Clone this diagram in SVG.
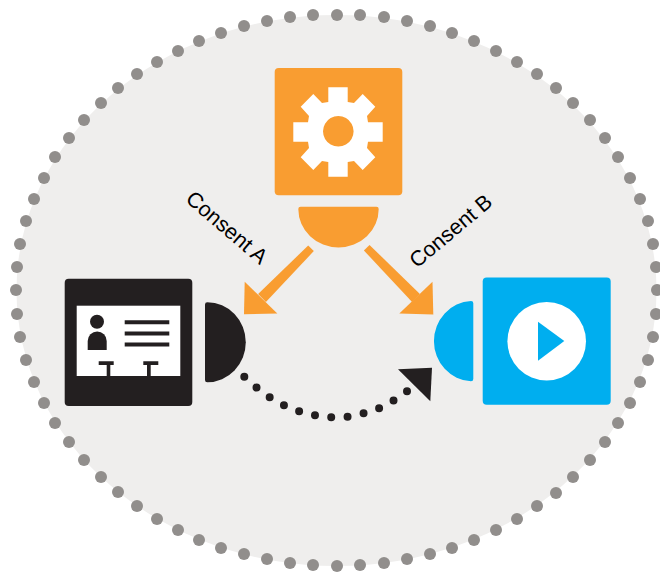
<svg xmlns="http://www.w3.org/2000/svg" width="660" height="574" viewBox="0 0 660 574">
<style>
.bg{fill:#efeeed}
#ring circle{fill:#918e8c;r:6px}
.o{fill:#f99d31}.k{fill:#231f20}.b{fill:#00aeef}.w{fill:#fff}
.dots{fill:none;stroke:#231f20;stroke-width:8;stroke-linecap:round;stroke-dasharray:0 1}
text{font-family:"Liberation Sans",Arial,sans-serif;font-size:21.500px;fill:#000}
</style>
<g id="boundary">
<ellipse class="bg" cx="336.500" cy="290.500" rx="320" ry="275.500"/>
<g id="ring">
<circle cx="337" cy="15"/><circle cx="360" cy="15"/><circle cx="384" cy="17"/><circle cx="407" cy="21"/><circle cx="430" cy="26"/><circle cx="452" cy="33"/><circle cx="474" cy="41"/><circle cx="496" cy="51"/><circle cx="517" cy="62"/><circle cx="537" cy="74"/><circle cx="556" cy="88"/><circle cx="573" cy="103"/><circle cx="590" cy="120"/><circle cx="605" cy="138"/><circle cx="618" cy="157"/><circle cx="630" cy="178"/><circle cx="640" cy="199"/><circle cx="648" cy="221"/><circle cx="653" cy="244"/><circle cx="656" cy="267"/><circle cx="657" cy="290"/><circle cx="656" cy="314"/><circle cx="653" cy="337"/><circle cx="648" cy="360"/><circle cx="640" cy="382"/><circle cx="630" cy="403"/><circle cx="618" cy="423"/><circle cx="605" cy="442"/><circle cx="590" cy="460"/><circle cx="573" cy="477"/><circle cx="556" cy="493"/><circle cx="537" cy="506"/><circle cx="517" cy="519"/><circle cx="496" cy="530"/><circle cx="474" cy="540"/><circle cx="452" cy="548"/><circle cx="430" cy="554"/><circle cx="407" cy="559"/><circle cx="384" cy="563"/><circle cx="360" cy="565"/><circle cx="337" cy="566"/><circle cx="313" cy="565"/><circle cx="290" cy="563"/><circle cx="267" cy="559"/><circle cx="244" cy="554"/><circle cx="221" cy="548"/><circle cx="199" cy="540"/><circle cx="178" cy="530"/><circle cx="157" cy="519"/><circle cx="137" cy="506"/><circle cx="118" cy="492"/><circle cx="101" cy="477"/><circle cx="84" cy="460"/><circle cx="69" cy="442"/><circle cx="55" cy="423"/><circle cx="44" cy="403"/><circle cx="34" cy="382"/><circle cx="26" cy="360"/><circle cx="20" cy="337"/><circle cx="17" cy="314"/><circle cx="16" cy="290"/><circle cx="17" cy="267"/><circle cx="20" cy="244"/><circle cx="26" cy="221"/><circle cx="34" cy="199"/><circle cx="44" cy="178"/><circle cx="55" cy="157"/><circle cx="69" cy="138"/><circle cx="84" cy="120"/><circle cx="101" cy="103"/><circle cx="118" cy="88"/><circle cx="137" cy="74"/><circle cx="157" cy="62"/><circle cx="178" cy="51"/><circle cx="199" cy="41"/><circle cx="221" cy="33"/><circle cx="244" cy="26"/><circle cx="267" cy="21"/><circle cx="290" cy="17"/><circle cx="313" cy="15"/>
</g>
</g>
<g id="connectors">
<polygon class="o" points="313.800,251.100 308.200,245.500 258.100,294.100 265.900,301.900"/>
<polygon class="o" points="244.700,281.700 244,314.300 277.300,313.500"/>
<polygon class="o" points="369.500,244.900 363.900,250.500 412.100,301.900 419.900,294.100"/>
<polygon class="o" points="432.500,281.700 433.300,314.500 399.300,313.500"/>
<path class="dots" pathLength="11.030" d="M244.300 376.700L256.700 387.700L269.700 397.300L284 405.300L299 411.300L315 415.300L331.300 417.300L347.300 416.700L363.700 413.300L379 408.300L393.300 400.700L407 391.300L407.400 391"/>
<polygon class="k" points="398,369.300 432,367.700 430.300,401.300"/>
</g>
<g id="node-service">
<rect class="o" x="274.700" y="68" width="127.600" height="127.300" rx="4"/>
<path class="w" fill-rule="evenodd" d="M328.300 87.300H347.700V102L354 103L362.700 94L375.300 106.700L367 116L368 122.300H382.700V141.700H368L367 148L375.300 157.300L362.700 170L354 161L347.700 162V176.700H328.300V162L322 161L313.300 170L300.700 157.300L309 148L308 141.700H293.300V122.300H308L309 116L300.700 106.700L313.300 94L322 103L328.300 102ZM338.300 116a15.300 15.300 0 1 0 0.010 0Z"/>
<path class="o" d="M298.300 209a2.300 2.300 0 0 1 2.300-2.300H376.400a2.300 2.300 0 0 1 2.300 2.300A40.200 38.500 0 0 1 298.300 209Z"/>
</g>
<g id="node-profile">
<rect class="k" x="64.700" y="278.700" width="127.600" height="127.300" rx="4"/>
<rect class="w" x="76.700" y="305.700" width="103.600" height="70.300"/>
<circle class="k" cx="97" cy="321.700" r="7"/>
<path class="k" d="M87.700 350V341a9.500 9.500 0 0 1 19 0V350Z"/>
<path class="k" d="M124.700 320.300H169.300V324.300H124.700ZM124.700 331.500H169.300V335.500H124.700ZM124.700 342.500H169.300V346.500H124.700Z"/>
<path class="k" d="M98.700 361.300H113.700V365H110.300V376H106.700V365H98.700ZM143.300 361.300H158.300V365H150.700V376H147V365H143.300Z"/>
<path class="k" d="M205 304.600a2.300 2.300 0 0 1 2.300-2.300A38.500 40 0 0 1 207.300 382.300a2.300 2.300 0 0 1-2.300-2.300Z"/>
</g>
<g id="node-media">
<rect class="b" x="482.700" y="277.500" width="128" height="127.300" rx="4"/>
<circle class="w" cx="546.700" cy="341.300" r="39.300"/>
<polygon class="b" points="538,321.700 538,360.700 564.300,341"/>
<path class="b" d="M473.300 303.300a2.300 2.300 0 0 0-2.300-2.300A39 40.200 0 0 0 471 381.300a2.300 2.300 0 0 0 2.300-2.300Z"/>
</g>
<g id="labels">
<text transform="translate(184.400 200.800) rotate(40.500)">Consent A</text>
<text transform="translate(416.900 268.800) rotate(-40)">Consent B</text>
</g>
</svg>
